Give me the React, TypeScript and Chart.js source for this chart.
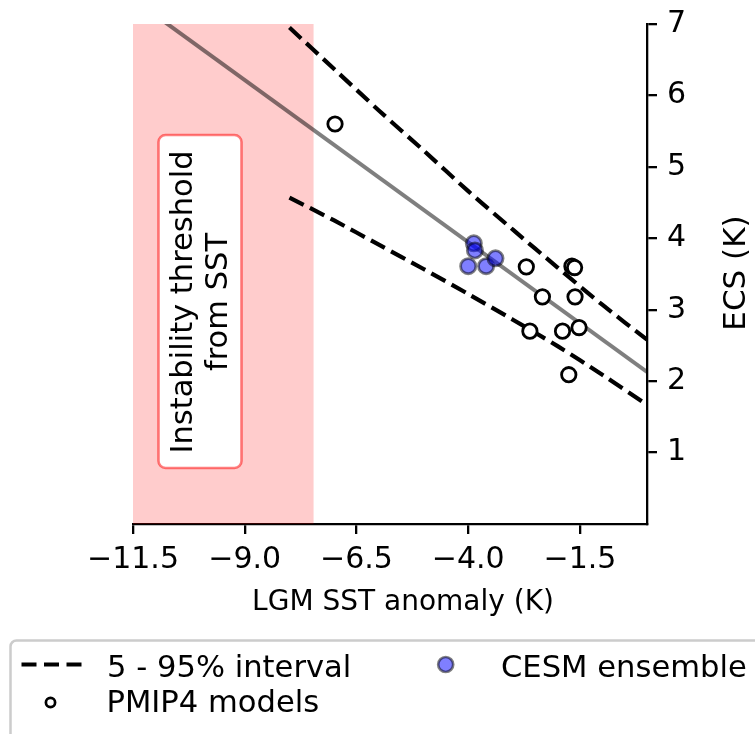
import React, { useEffect, useRef } from 'react';
import { Chart, registerables } from 'chart.js';

Chart.register(...registerables);

const FONT = "'DejaVu Sans', sans-serif";

// Axis ranges and ticks
const xRange = [-11.5, 0];
const yRange = [0, 7];
const xTicks = [-11.5, -9.0, -6.5, -4.0, -1.5];
const yTicks = [1, 2, 3, 4, 5, 6, 7];

// Shaded "instability threshold" band (LGM SST anomaly, K)
const thresholdBand = [-11.5, -7.46];
const bandText = ['Instability threshold', 'from SST'];

// Regression line
const fitX = [-11.5, 0];
const fitY = [7.35, 2.13];

// 5 - 95% interval
const intervalX = [-8, -7, -6, -5, -4, -3, -2, -1, 0];
const upperY = [6.95, 6.37, 5.79, 5.23, 4.66, 4.12, 3.59, 3.07, 2.58];
const lowerY = [4.57, 4.25, 3.91, 3.57, 3.22, 2.86, 2.49, 2.09, 1.67];

// PMIP4 models
const pmipX = [-6.98, -2.7, -1.68, -1.62, -2.34, -1.61, -2.62, -1.89, -1.52, -1.75];
const pmipY = [5.6, 3.6, 3.61, 3.59, 3.18, 3.18, 2.7, 2.7, 2.75, 2.09];

// CESM ensemble
const cesmX = [-3.875, -3.85, -4.0, -3.6, -3.39];
const cesmY = [3.93, 3.83, 3.61, 3.61, 3.72];

const xTitle = 'LGM SST anomaly (K)';
const yTitle = 'ECS (K)';
const legendLabels = ['5 - 95% interval', 'PMIP4 models', 'CESM ensemble'];

const toPts = (xs: number[], ys: number[]) => xs.map((x, i) => ({ x, y: ys[i] }));

const fmtX = (v: number) => (v < 0 ? '\u2212' : '') + Math.abs(v).toFixed(1);

function roundRect(ctx: CanvasRenderingContext2D, x: number, y: number, w: number, h: number, r: number) {
  ctx.beginPath();
  ctx.moveTo(x + r, y);
  ctx.lineTo(x + w - r, y);
  ctx.arcTo(x + w, y, x + w, y + r, r);
  ctx.lineTo(x + w, y + h - r);
  ctx.arcTo(x + w, y + h, x + w - r, y + h, r);
  ctx.lineTo(x + r, y + h);
  ctx.arcTo(x, y + h, x, y + h - r, r);
  ctx.lineTo(x, y + r);
  ctx.arcTo(x, y, x + r, y, r);
  ctx.closePath();
}

const decorPlugin = {
  id: 'decor',
  beforeDatasetsDraw(chart: any) {
    const { ctx, chartArea, scales } = chart;
    const x0 = scales.x.getPixelForValue(thresholdBand[0]);
    const x1 = scales.x.getPixelForValue(thresholdBand[1]);
    ctx.save();
    ctx.fillStyle = 'rgba(255,0,0,0.2)';
    ctx.fillRect(x0, chartArea.top, x1 - x0, chartArea.bottom - chartArea.top);
    ctx.restore();
  },
  afterDatasetsDraw(chart: any) {
    const { ctx, chartArea } = chart;
    // text box in band
    const cx = 200;
    const cy = (chartArea.top + chartArea.bottom) / 2 + 28;
    ctx.save();
    roundRect(ctx, 158.5, 135, 83, 333, 7);
    ctx.fillStyle = '#ffffff';
    ctx.fill();
    ctx.lineWidth = 2.6;
    ctx.strokeStyle = 'rgba(255,0,0,0.5)';
    ctx.stroke();
    ctx.translate(cx, cy);
    ctx.rotate(-Math.PI / 2);
    ctx.fillStyle = '#000';
    ctx.font = `30.5px ${FONT}`;
    ctx.textAlign = 'center';
    ctx.textBaseline = 'alphabetic';
    ctx.fillText(bandText[0], 0, -8.5);
    ctx.fillText(bandText[1], 0, 27);
    ctx.restore();
  },
  afterDraw(chart: any) {
    const { ctx, chartArea } = chart;
    ctx.save();
    ctx.fillStyle = '#000';
    // x title
    ctx.font = `28px ${FONT}`;
    ctx.textAlign = 'center';
    ctx.textBaseline = 'alphabetic';
    ctx.fillText(xTitle, 403, 610);
    // y title (right side, reading bottom to top)
    ctx.save();
    ctx.font = `31px ${FONT}`;
    ctx.translate(745, 273);
    ctx.rotate(-Math.PI / 2);
    ctx.fillText(yTitle, 0, 0);
    ctx.restore();

    // legend frame
    roundRect(ctx, 10.5, 640.5, 800, 120, 6);
    ctx.fillStyle = 'rgba(255,255,255,0.8)';
    ctx.fill();
    ctx.lineWidth = 2.5;
    ctx.strokeStyle = '#cccccc';
    ctx.stroke();

    // dashed sample
    ctx.beginPath();
    ctx.setLineDash([15, 7.5]);
    ctx.lineWidth = 4.2;
    ctx.strokeStyle = '#000';
    ctx.moveTo(21.5, 664.5);
    ctx.lineTo(82, 664.5);
    ctx.stroke();
    ctx.setLineDash([]);

    // PMIP4 marker
    ctx.beginPath();
    ctx.arc(50.5, 702.5, 4.6, 0, Math.PI * 2);
    ctx.fillStyle = '#fff';
    ctx.fill();
    ctx.lineWidth = 2.7;
    ctx.strokeStyle = '#000';
    ctx.stroke();

    // CESM marker
    ctx.beginPath();
    ctx.arc(445.7, 664.5, 7.5, 0, Math.PI * 2);
    ctx.fillStyle = 'rgba(0,0,255,0.5)';
    ctx.fill();
    ctx.lineWidth = 2.7;
    ctx.strokeStyle = 'rgba(0,0,0,0.5)';
    ctx.stroke();

    ctx.font = `30.6px ${FONT}`;
    ctx.fillStyle = '#000';
    ctx.textAlign = 'left';
    ctx.textBaseline = 'alphabetic';
    ctx.fillText(legendLabels[0], 107, 677);
    ctx.fillText(legendLabels[1], 106.5, 712);
    ctx.fillText(legendLabels[2], 501, 677);
    ctx.restore();
  },
};

export default function App() {
  const ref = useRef<HTMLCanvasElement | null>(null);

  useEffect(() => {
    if (!ref.current) return;
    Chart.defaults.font.family = FONT;
    const chart = new Chart(ref.current, {
      type: 'scatter',
      data: {
        datasets: [
          {
            label: 'fit',
            data: toPts(fitX, fitY),
            showLine: true,
            borderColor: 'rgba(0,0,0,0.5)',
            borderWidth: 4,
            pointRadius: 0,
            order: 6,
          },
          {
            label: 'upper',
            data: toPts(intervalX, upperY),
            showLine: true,
            borderColor: '#000',
            borderWidth: 4.2,
            borderDash: [16, 7],
            pointRadius: 0,
            tension: 0.3,
            order: 5,
          },
          {
            label: 'lower',
            data: toPts(intervalX, lowerY),
            showLine: true,
            borderColor: '#000',
            borderWidth: 4.2,
            borderDash: [16, 7],
            pointRadius: 0,
            tension: 0.3,
            order: 4,
          },
          {
            label: legendLabels[1],
            data: toPts(pmipX, pmipY),
            pointRadius: 7.2,
            pointBorderWidth: 2.8,
            pointBackgroundColor: '#ffffff',
            pointBorderColor: '#000',
            order: 2,
          },
          {
            label: legendLabels[2],
            data: toPts(cesmX, cesmY),
            pointRadius: 7.6,
            pointBorderWidth: 2.8,
            pointBackgroundColor: 'rgba(0,0,255,0.5)',
            pointBorderColor: 'rgba(0,0,0,0.5)',
            order: 1,
          },
        ],
      },
      options: {
        animation: false,
        responsive: false,
        devicePixelRatio: 1,
        layout: { padding: { left: 133, top: 24, right: 0, bottom: 0 } },
        plugins: {
          legend: { display: false },
          tooltip: { enabled: false },
        },
        scales: {
          x: {
            type: 'linear',
            min: xRange[0],
            max: xRange[1],
            afterBuildTicks: (s: any) => {
              s.ticks = xTicks.map((v) => ({ value: v }));
            },
            afterFit: (s: any) => {
              s.height = 210;
              s.paddingLeft = 0;
              s.paddingRight = 0;
              s.paddingTop = 0;
              s.paddingBottom = 0;
            },
            ticks: {
              autoSkip: false,
              maxRotation: 0,
              color: '#000',
              padding: 8,
              font: { size: 30, family: FONT },
              callback: (v: any) => fmtX(Number(v)),
            },
            grid: {
              display: true,
              drawOnChartArea: false,
              drawTicks: true,
              tickLength: 10,
              color: '#000',
              lineWidth: 2.3,
            },
            border: { display: true, color: '#000', width: 2.3 },
          },
          y: {
            type: 'linear',
            position: 'right',
            min: yRange[0],
            max: yRange[1],
            afterBuildTicks: (s: any) => {
              s.ticks = yTicks.map((v) => ({ value: v }));
            },
            afterFit: (s: any) => {
              s.width = 108;
              s.paddingLeft = 0;
              s.paddingRight = 0;
              s.paddingTop = 0;
              s.paddingBottom = 0;
            },
            ticks: {
              color: '#000',
              padding: 10,
              font: { size: 30, family: FONT },
              callback: (v: any) => String(v),
            },
            grid: {
              display: true,
              drawOnChartArea: false,
              drawTicks: true,
              tickLength: 10,
              color: '#000',
              lineWidth: 2.3,
            },
            border: { display: true, color: '#000', width: 2.3 },
          },
        },
      },
      plugins: [decorPlugin],
    });
    return () => chart.destroy();
  }, []);

  return (
    <div style={{ position: 'absolute', left: 0, top: 0, width: 755, height: 734, background: '#fff' }}>
      <canvas ref={ref} width={755} height={734} style={{ display: 'block' }} />
    </div>
  );
}
